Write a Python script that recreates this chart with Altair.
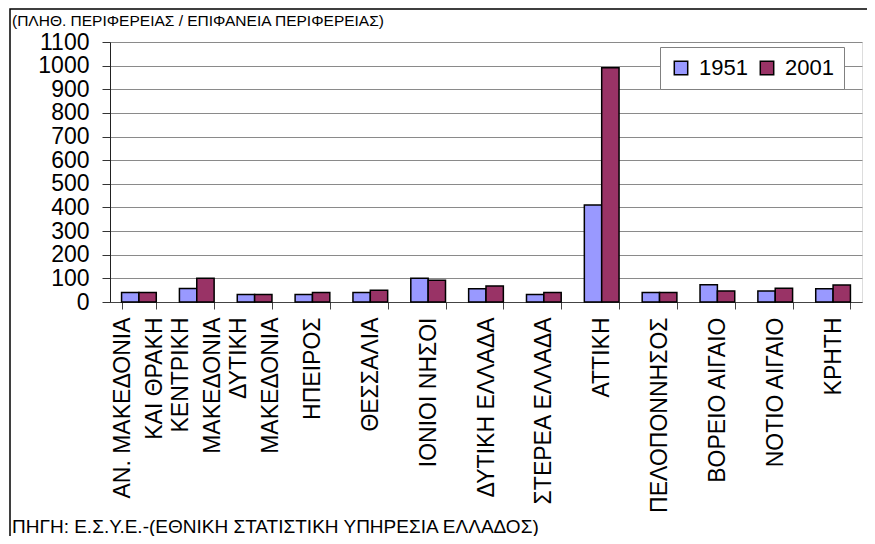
import altair as alt
import pandas as pd

# --- data -------------------------------------------------------------
regions = [
    "ΑΝ. ΜΑΚΕΔΟΝΙΑ\nΚΑΙ ΘΡΑΚΗ",
    "ΚΕΝΤΡΙΚΗ\nΜΑΚΕΔΟΝΙΑ",
    "ΔΥΤΙΚΗ\nΜΑΚΕΔΟΝΙΑ",
    "ΗΠΕΙΡΟΣ",
    "ΘΕΣΣΑΛΙΑ",
    "ΙΟΝΙΟΙ ΝΗΣΟΙ",
    "ΔΥΤΙΚΗ ΕΛΛΑΔΑ",
    "ΣΤΕΡΕΑ ΕΛΛΑΔΑ",
    "ΑΤΤΙΚΗ",
    "ΠΕΛΟΠΟΝΝΗΣΟΣ",
    "ΒΟΡΕΙΟ ΑΙΓΑΙΟ",
    "ΝΟΤΙΟ ΑΙΓΑΙΟ",
    "ΚΡΗΤΗ",
]
years = ["1951", "2001"]
values_1951 = [40, 57, 32, 32, 40, 100, 56, 32, 410, 40, 73, 47, 56]
values_2001 = [40, 100, 32, 40, 50, 92, 68, 40, 991, 40, 47, 58, 72]
y_ticks = [0, 100, 200, 300, 400, 500, 600, 700, 800, 900, 1000, 1100]
title_text = "(ΠΛΗΘ. ΠΕΡΙΦΕΡΕΙΑΣ / ΕΠΙΦΑΝΕΙΑ ΠΕΡΙΦΕΡΕΙΑΣ)"
source_text = "ΠΗΓΗ: Ε.Σ.Υ.Ε.-(ΕΘΝΙΚΗ ΣΤΑΤΙΣΤΙΚΗ ΥΠΗΡΕΣΙΑ ΕΛΛΑΔΟΣ)"
colors = ["#9999FF", "#993366"]

NBSP = "\u00a0"
LINE_H = 32


def centred(label):
    lines = label.split("\n")
    longest = max(len(l) for l in lines)
    out = [l + NBSP * round((longest - len(l)) * 1.3) for l in lines]
    return "|".join(out)


labels = [centred(r) for r in regions]

rows = []
for lab, a, b in zip(labels, values_1951, values_2001):
    rows.append({"region": lab, "year": years[0], "value": a})
    rows.append({"region": lab, "year": years[1], "value": b})
df = pd.DataFrame(rows)

FONT = "Liberation Sans"

bars = (
    alt.Chart(df)
    .mark_bar(stroke="black", strokeWidth=1.5)
    .encode(
        x=alt.X(
            "region:N",
            sort=labels,
            title=None,
            scale=alt.Scale(paddingInner=0.4, paddingOuter=0.2),
            axis=alt.Axis(
                labelAngle=-90,
                labelExpr="split(datum.label, '|')",
                labelFontSize=23,
                labelLineHeight=LINE_H,
                labelColor="black",
                labelFont=FONT,
                labelPadding=8,
                labelLimit=0,
                labelOverlap=False,
                labelOffset={
                    "condition": {
                        "test": "indexof(datum.label, '|') >= 0",
                        "value": -LINE_H / 2,
                    },
                    "value": 0,
                },
                tickBand="extent",
                tickSize=7,
                tickColor="#444444",
                domainColor="#444444",
                grid=False,
            ),
        ),
        xOffset=alt.XOffset("year:N", sort=years),
        y=alt.Y(
            "value:Q",
            title=None,
            scale=alt.Scale(domain=[0, 1100], nice=False),
            axis=alt.Axis(
                values=y_ticks,
                format="d",
                labelFontSize=23,
                labelFont=FONT,
                labelColor="black",
                labelPadding=13,
                tickSize=8,
                tickColor="#333333",
                domainColor="#222222",
                gridColor="#8a8a8a",
            ),
        ),
        color=alt.Color(
            "year:N",
            sort=years,
            scale=alt.Scale(domain=years, range=colors),
            legend=alt.Legend(
                title=None,
                orient="none",
                legendX=550,
                legendY=5,
                direction="horizontal",
                symbolType="square",
                symbolSize=180,
                symbolStrokeColor="black",
                symbolStrokeWidth=1.5,
                labelFontSize=22,
                labelFont=FONT,
                labelColor="black",
                labelOffset=7,
                columnPadding=8,
                padding=10,
                strokeColor="#808080",
                fillColor="white",
            ),
        ),
    )
)

title_layer = (
    alt.Chart(pd.DataFrame({"t": [title_text]}))
    .mark_text(align="left", baseline="alphabetic", fontSize=15.5, font=FONT, color="black")
    .encode(text="t:N", x=alt.value(-98), y=alt.value(-16))
)

source_layer = (
    alt.Chart(pd.DataFrame({"t": [source_text]}))
    .mark_text(align="left", baseline="alphabetic", fontSize=19, font=FONT, color="black")
    .encode(text="t:N", x=alt.value(-98), y=alt.value(491))
)

frame = (
    alt.Chart(pd.DataFrame({"f": [0]}))
    .mark_rect(fill="transparent", stroke="black", strokeWidth=1.5)
    .encode(x=alt.value(-100), x2=alt.value(800), y=alt.value(-33), y2=alt.value(560))
)

chart = (
    alt.layer(frame, bars, title_layer, source_layer)
    .properties(
        width=752,
        height=260,
        autosize=alt.AutoSizeParams(type="none"),
        padding={"left": 102, "top": 34, "right": 5, "bottom": 234},
    )
    .configure_view(stroke="#808080", strokeWidth=1.5)
    .configure(background="white")
)

chart.save("out.html", embed_options={"renderer": "svg", "actions": False})
